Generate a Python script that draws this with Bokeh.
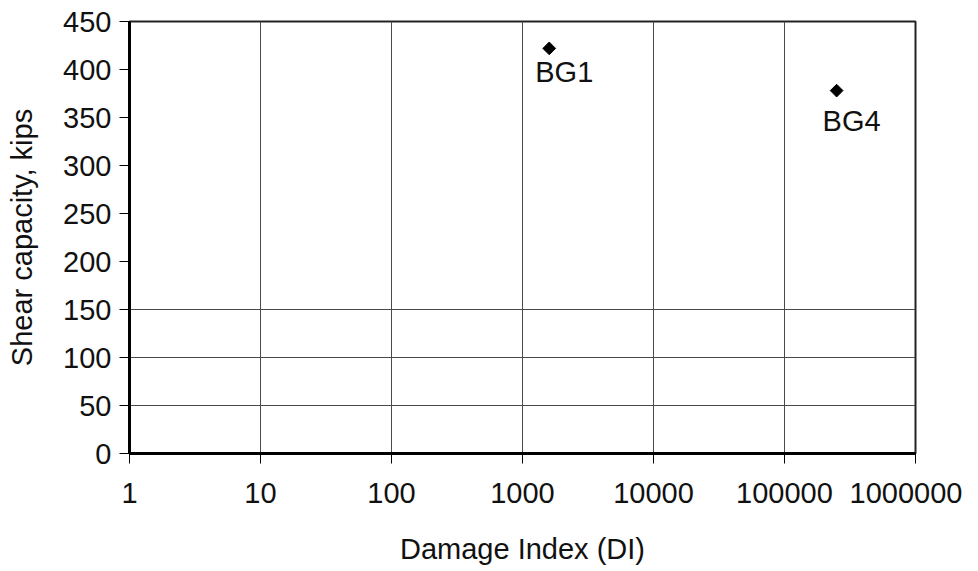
import math
from bokeh.plotting import figure
from bokeh.models import FixedTicker, ColumnDataSource, Label
from bokeh.embed import file_html
from bokeh.resources import INLINE

# Data
specimens = ["BG1", "BG4"]
damage_index = [1600, 250000]
shear_capacity = [422, 378]
x_ticks = [1, 10, 100, 1000, 10000, 100000, 1000000]
y_ticks = [0, 50, 100, 150, 200, 250, 300, 350, 400, 450]
y_grid_lines = [50, 100, 150]

FONT = "Liberation Sans"
FS = "29px"

p = figure(width=962, height=567, x_axis_type="log",
           x_range=(1, 1000000), y_range=(0, 450),
           output_backend="svg", toolbar_location=None,
           min_border_left=129, min_border_right=47,
           min_border_top=21, min_border_bottom=114)

p.background_fill_color = "white"
p.border_fill_color = "white"
p.outline_line_color = "#222222"
p.outline_line_width = 2

# axes
p.xaxis.ticker = FixedTicker(ticks=x_ticks)
p.yaxis.ticker = FixedTicker(ticks=y_ticks)
p.xaxis.major_label_overrides = {t: str(t) for t in x_ticks}
p.xaxis.axis_label = "Damage Index (DI)"
p.yaxis.axis_label = "Shear capacity, kips"
for ax in (p.xaxis[0], p.yaxis[0]):
    ax.axis_line_color = "black"
    ax.axis_line_width = 3
    ax.major_tick_line_color = "black"
    ax.major_tick_line_width = 1
    ax.major_tick_in = 0
    ax.major_tick_out = 10
    ax.minor_tick_line_color = None
    ax.major_label_text_font = FONT
    ax.major_label_text_font_size = FS
    ax.major_label_text_color = "#111111"
    ax.axis_label_text_font = FONT
    ax.axis_label_text_font_size = FS
    ax.axis_label_text_font_style = "normal"
    ax.axis_label_text_color = "#111111"
p.xaxis.major_label_standoff = 19
p.xaxis.axis_label_standoff = 27
p.yaxis.major_label_standoff = 8
p.yaxis.axis_label_standoff = 22

# grids
p.xgrid.ticker = FixedTicker(ticks=x_ticks)
p.xgrid.grid_line_color = "#4a4a4a"
p.xgrid.grid_line_width = 1
p.ygrid.ticker = FixedTicker(ticks=y_grid_lines)
p.ygrid.grid_line_color = "#4a4a4a"
p.ygrid.grid_line_width = 1

src = ColumnDataSource(dict(x=damage_index, y=shear_capacity))
p.scatter("x", "y", source=src, marker="square", size=9, angle=math.pi / 4,
          fill_color="black", line_color="black")

label_dy = [-8, -14]
for name, xv, yv, dy in zip(specimens, damage_index, shear_capacity, label_dy):
    p.add_layout(Label(x=xv, y=yv, text=name, x_offset=15, y_offset=dy,
                       text_font=FONT, text_font_size=FS, text_color="#111111",
                       text_align="center", text_baseline="top"))

open("out.html", "w").write(file_html(p, INLINE))
